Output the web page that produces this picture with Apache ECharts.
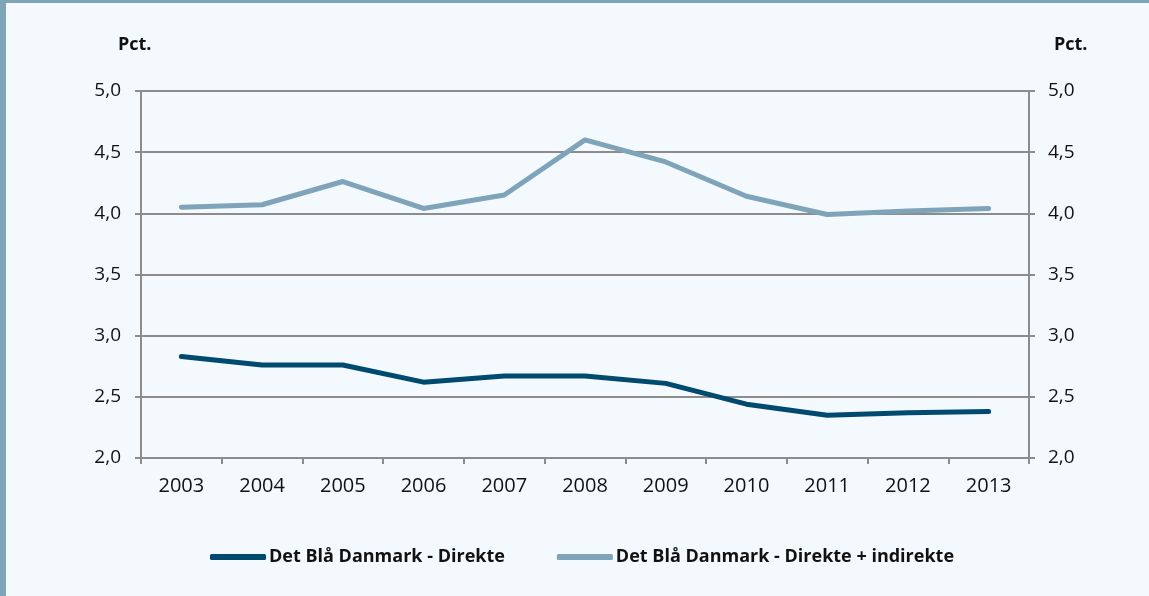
<!DOCTYPE html>
<html>
<head>
<meta charset="utf-8">
<script src="https://cdn.jsdelivr.net/npm/echarts@6/dist/echarts.min.js"></script>
<style>
html,body{margin:0;padding:0;background:#f4f9fe;}
#c{width:1149px;height:596px;}
</style>
</head>
<body>
<div id="c"></div>
<script>
const categories = ['2003','2004','2005','2006','2007','2008','2009','2010','2011','2012','2013'];
const direkte = [2.83,2.76,2.76,2.62,2.67,2.67,2.61,2.44,2.35,2.37,2.38];
const direkteIndirekte = [4.05,4.07,4.26,4.04,4.15,4.60,4.42,4.14,3.99,4.02,4.04];
const seriesNames = ['Det Blå Danmark - Direkte','Det Blå Danmark - Direkte + indirekte'];
const axisTitle = 'Pct.';

const FONT = '"Open Sans", sans-serif';
const fmt = v => v.toFixed(1).replace('.', ',');
const grey = '#8c8c8c';

const chart = echarts.init(document.getElementById('c'));
chart.setOption({
  backgroundColor: '#f4f9fe',
  animation: false,
  textStyle: {fontFamily: FONT},
  grid: {left: 141, right: 120, top: 91, bottom: 138, containLabel: false},
  graphic: [
    {type: 'rect', shape: {x: 0, y: 0, width: 1149, height: 3}, style: {fill: '#7fa3b8'}},
    {type: 'rect', shape: {x: 0, y: 0, width: 6, height: 596}, style: {fill: '#7fa3b8'}},
    {type: 'text', left: 118, top: 36, style: {text: axisTitle, font: 'bold 18px ' + FONT, fill: '#111'}},
    {type: 'text', left: 1054, top: 36, style: {text: axisTitle, font: 'bold 18px ' + FONT, fill: '#111'}}
  ],
  legend: {
    left: 205, top: 543,
    itemWidth: 56, itemHeight: 6, itemGap: 52,
    icon: 'roundRect',
    textStyle: {fontFamily: FONT, fontWeight: 'bold', fontSize: 18, color: '#111', padding: [0,0,0,-2]},
    data: seriesNames
  },
  xAxis: {
    type: 'category',
    data: categories,
    boundaryGap: true,
    axisLine: {lineStyle: {color: grey, width: 2}},
    axisTick: {show: true, length: 6, lineStyle: {color: grey, width: 2}},
    axisLabel: {color: '#111', fontSize: 20, fontFamily: FONT, margin: 18},
    splitLine: {show: false}
  },
  yAxis: [
    {
      type: 'value', min: 2, max: 5, interval: 0.5, position: 'left',
      axisLine: {show: true, lineStyle: {color: grey, width: 2}},
      axisTick: {show: true, length: 6, lineStyle: {color: grey, width: 2}},
      axisLabel: {color: '#111', fontSize: 19, fontFamily: FONT, margin: 20, formatter: fmt},
      splitLine: {show: true, lineStyle: {color: grey, width: 2}}
    },
    {
      type: 'value', min: 2, max: 5, interval: 0.5, position: 'right',
      axisLine: {show: true, lineStyle: {color: grey, width: 2}},
      axisTick: {show: true, length: 6, lineStyle: {color: grey, width: 2}},
      axisLabel: {color: '#111', fontSize: 19, fontFamily: FONT, margin: 19, formatter: fmt},
      splitLine: {show: false}
    }
  ],
  series: [
    {
      name: seriesNames[0], type: 'line', data: direkte, yAxisIndex: 0,
      showSymbol: false, symbol: 'none',
      lineStyle: {color: '#004a70', width: 5, cap: 'round', join: 'round'},
      itemStyle: {color: '#004a70'}
    },
    {
      name: seriesNames[1], type: 'line', data: direkteIndirekte, yAxisIndex: 0,
      showSymbol: false, symbol: 'none',
      lineStyle: {color: '#7fa3b8', width: 5, cap: 'round', join: 'round'},
      itemStyle: {color: '#7fa3b8'}
    }
  ]
});
</script>
</body>
</html>
